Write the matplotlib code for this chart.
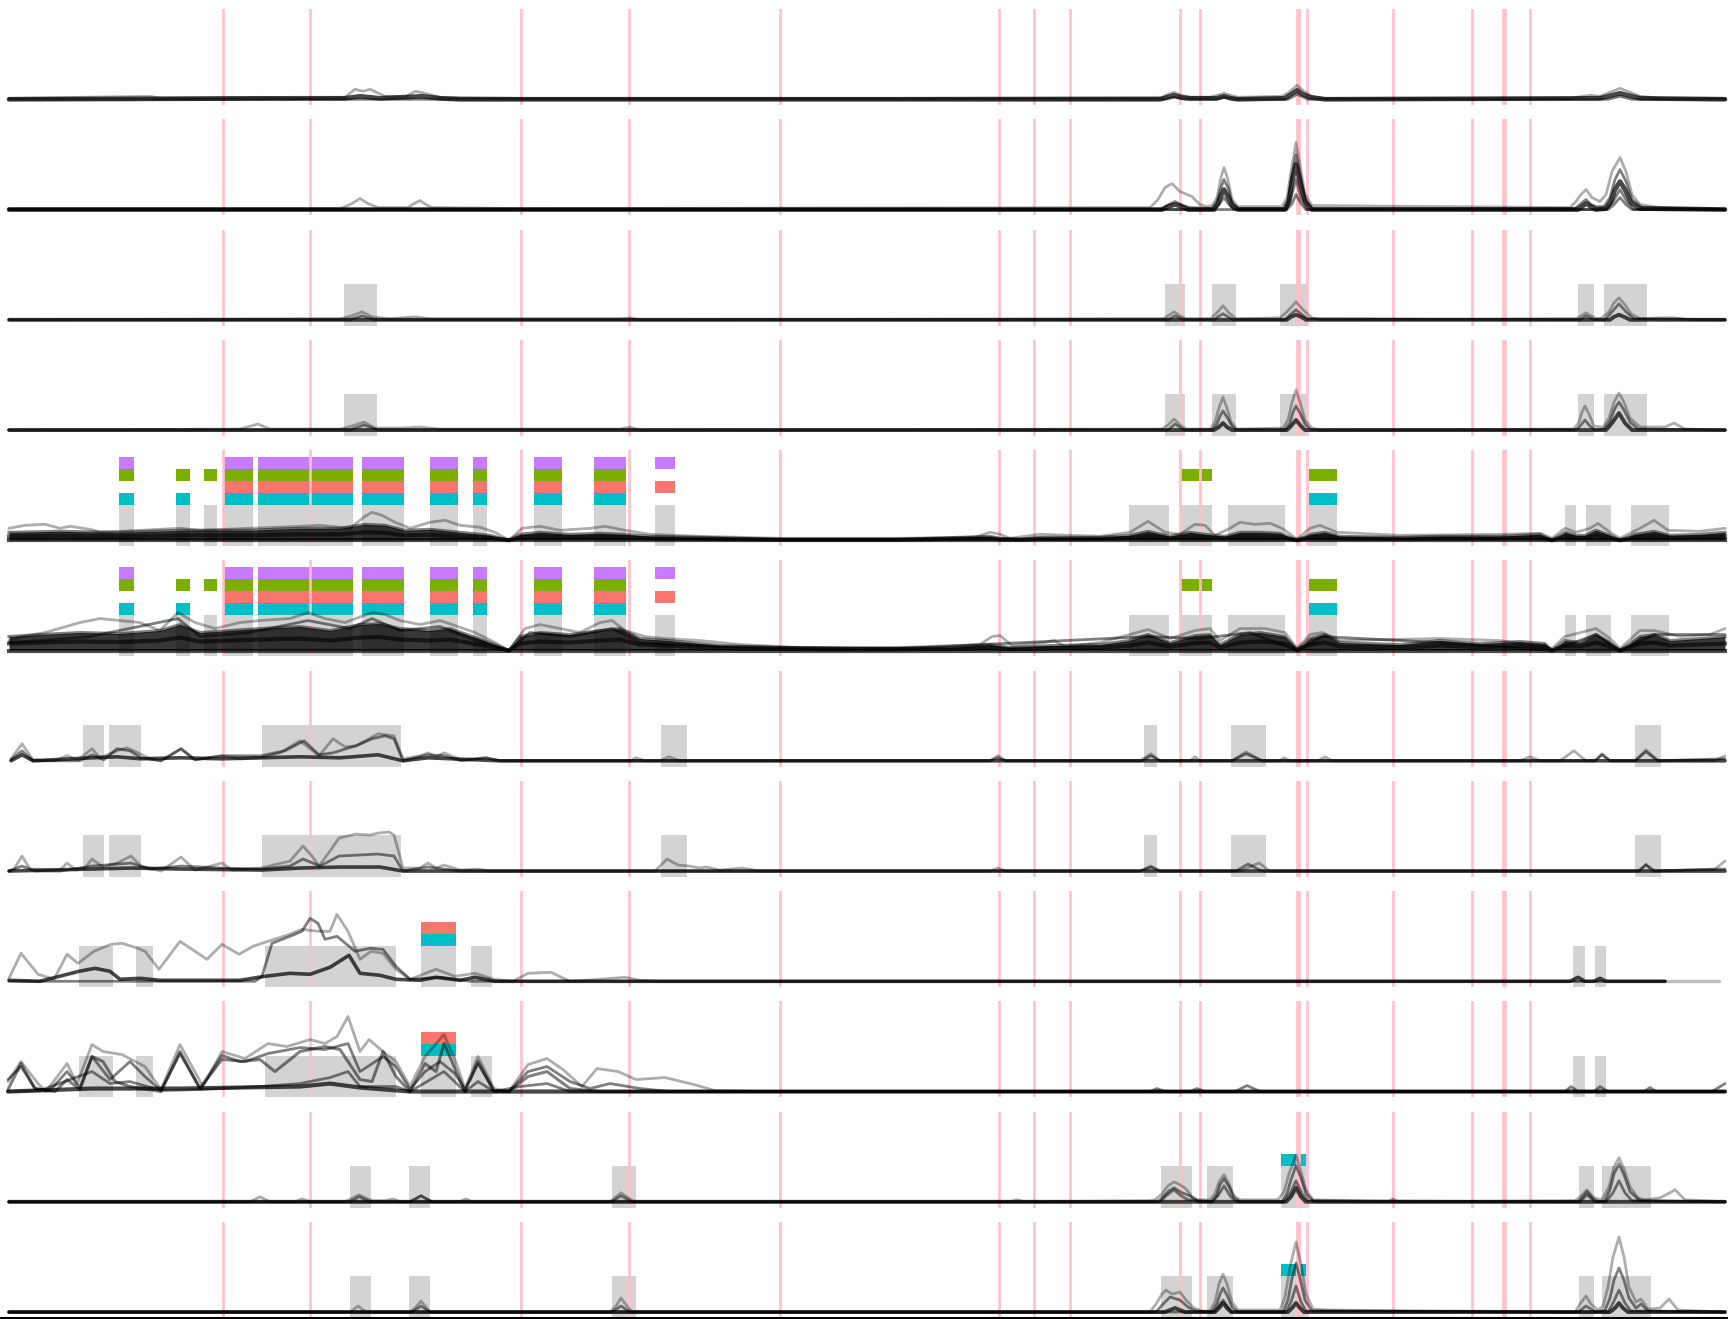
import matplotlib
matplotlib.use("Agg")
import matplotlib.pyplot as plt

# ---------------- data (x in track position units, y = signal) ----------------
EVENT_X = [222.7, 310.3, 520.5, 628.6, 779.8, 998.6, 1034.2, 1069.5, 1180.4, 1200.4,
           1296.6, 1299.2, 1307.3, 1393.3, 1472, 1502.5, 1505, 1529.5]

REG_34 = [(344, 377), (1165, 1185), (1212, 1236), (1280, 1307), (1578, 1594), (1604, 1647)]
REG_56 = [(119, 134), (176, 190), (204, 217), (224, 253), (258, 353), (362, 404), (430, 458),
          (473, 487), (534, 562), (594, 626), (655, 675), (1129, 1169), (1181, 1212),
          (1228, 1285), (1309, 1337), (1565, 1576), (1586, 1611), (1631, 1669)]
PURPLE_56 = [(119, 134), (224, 253), (258, 353), (362, 404), (430, 458), (473, 487),
             (534, 562), (594, 626), (655, 675)]
GREEN_56 = [(119, 134), (176, 190), (204, 217), (224, 253), (258, 353), (362, 404),
            (430, 458), (473, 487), (534, 562), (594, 626), (1181, 1212), (1309, 1337)]
SALMON_56 = [(224, 253), (258, 353), (362, 404), (430, 458), (473, 487), (534, 562),
             (594, 626), (655, 675)]
CYAN_56 = [(119, 134), (176, 190), (224, 253), (258, 353), (362, 404), (430, 458),
           (473, 487), (534, 562), (594, 626), (1309, 1337)]
REG_78 = [(83, 104), (109, 141), (262, 401), (661, 687), (1144, 1157), (1231, 1266), (1635, 1661)]
REG_910 = [(79, 113), (136, 153), (265, 396), (421, 456), (471, 492), (1573, 1585), (1595, 1606)]
SALMON_910 = [(421, 456)]
CYAN_910 = [(421, 456)]
REG_1112 = [(350, 371), (409, 430), (612, 636), (1161, 1192), (1207, 1233), (1281, 1306),
            (1579, 1594), (1602, 1651)]
CYAN_1112 = [(1281, 1306)]

# ---- panel 1
P1_T1 = [(9,1),(80,2),(150,3),(160,1),(260,2),(300,1),(345,2),(355,10),(363,8),(370,10),(385,3),(405,2),
         (415,8),(425,6),(440,2),(520,1),(900,1),(1162,2),(1168,5),(1174,7),(1181,4),(1190,2),(1210,2),
         (1217,4),(1224,6),(1231,4),(1238,2),(1282,3),(1289,7),(1297,14),(1304,8),(1312,3),(1325,1),(1570,1),
         (1590,4),(1600,3),(1610,7),(1620,11),(1630,7),(1640,3),(1660,1),(1725,1)]
P1_T2 = [(9,0),(300,1),(345,1),(360,3),(380,1),(422,3),(440,1),(460,0),(1160,0),(1167,2),(1174,4),(1181,2),
         (1190,1),(1217,1),(1224,3),(1231,1),(1238,0),(1285,1),(1291,5),(1297,9),(1303,5),(1310,2),(1325,0),
         (1600,1),(1612,4),(1620,6),(1628,4),(1640,1),(1725,0)]
P1_T3 = [(9,0),(1165,0),(1174,2),(1185,0),(1215,0),(1224,2),(1235,0),(1288,0),(1297,5),(1308,0),(1608,0),
         (1620,3),(1632,0),(1725,0)]
# ---- panel 2
P2_T1 = [(9,1),(340,1),(350,5),(360,11),(368,6),(378,2),(408,2),(414,6),(420,9),(426,5),(432,2),(520,1),
         (1150,2),(1158,10),(1165,22),(1172,26),(1180,18),(1192,13),(1200,5),(1206,3),(1212,4),(1217,12),
         (1221,32),(1224,42),(1228,30),(1232,10),(1238,3),(1282,3),(1287,12),(1291,38),(1296,67),(1300,45),
         (1305,15),(1312,4),(1570,2),(1576,8),(1580,14),(1586,20),(1592,12),(1600,8),(1606,15),(1612,38),
         (1620,52),(1626,38),(1632,15),(1640,5),(1660,2),(1725,1)]
P2_T2 = [(9,0),(1160,0),(1167,4),(1175,8),(1183,4),(1190,2),(1212,1),(1217,8),(1221,22),(1224,30),(1228,22),
         (1232,7),(1238,1),(1284,1),(1288,10),(1292,35),(1296,55),(1300,36),(1305,10),(1312,1),(1575,1),
         (1581,6),(1586,10),(1591,5),(1596,3),(1604,3),(1610,12),(1615,30),(1620,40),(1626,28),(1632,10),
         (1642,2),(1725,0)]
P2_T3 = [(9,0),(1162,0),(1168,3),(1175,5),(1182,3),(1188,0),(1214,0),(1218,6),(1221,14),(1224,20),(1228,13),
         (1232,4),(1238,0),(1285,0),(1289,8),(1292,28),(1296,45),(1300,28),(1305,8),(1312,0),(1578,0),
         (1582,3),(1586,6),(1591,3),(1596,0),(1606,1),(1611,8),(1615,20),(1620,28),(1625,20),(1631,7),
         (1640,1),(1725,0)]
P2_T4 = [(9,0),(1214,0),(1219,5),(1224,12),(1229,5),(1234,0),(1286,0),(1291,12),(1296,30),(1301,12),(1307,0),
         (1606,0),(1613,8),(1620,20),(1627,8),(1634,0),(1725,0)]
P2_T5 = [(9,0),(1287,0),(1292,6),(1296,15),(1301,6),(1306,0),(1608,0),(1614,5),(1620,12),(1626,5),(1632,0),
         (1725,0)]
# ---- panel 3
P3_T1 = [(9,0),(340,1),(352,4),(362,8),(372,3),(390,1),(415,3),(430,1),(620,1),(630,2),(640,0),(1163,1),
         (1168,4),(1174,8),(1180,4),(1186,1),(1210,1),(1216,6),(1223,14),(1229,7),(1236,1),(1280,2),(1287,8),
         (1296,18),(1303,10),(1312,2),(1320,0),(1576,1),(1581,4),(1586,7),(1591,4),(1597,1),(1602,2),
         (1609,8),(1614,17),(1619,22),(1625,15),(1631,6),(1640,1),(1660,2),(1675,2),(1690,0),(1725,0)]
P3_T2 = [(9,0),(350,0),(362,4),(375,0),(1168,0),(1175,4),(1184,0),(1214,0),(1218,3),(1223,6),(1228,3),
         (1233,0),(1285,0),(1290,5),(1296,10),(1302,5),(1308,1),(1580,0),(1586,4),(1594,0),(1605,0),
         (1612,8),(1619,16),(1626,8),(1634,1),(1725,0)]
P3_T3 = [(9,0),(1287,0),(1291,3),(1296,5),(1301,3),(1306,0),(1610,0),(1614,3),(1619,5),(1624,3),(1630,0),
         (1725,0)]
# ---- panel 4
P4_T1 = [(9,0),(240,1),(258,6),(270,1),(340,1),(352,4),(364,8),(375,2),(400,2),(420,3),(440,1),(620,1),
         (630,3),(640,0),(1162,1),(1168,5),(1174,11),(1180,5),(1186,1),(1210,1),(1215,8),(1219,22),(1223,33),
         (1227,22),(1231,8),(1237,1),(1283,2),(1288,10),(1292,28),(1296,40),(1300,28),(1305,10),(1312,2),
         (1320,0),(1570,1),(1574,1),(1579,8),(1582,18),(1585,24),(1589,16),(1594,4),(1603,3),(1609,12),
         (1614,28),(1619,37),(1624,28),(1630,12),(1640,3),(1665,3),(1674,7),(1685,1),(1725,0)]
P4_T2 = [(9,0),(350,0),(364,5),(378,0),(1168,0),(1175,6),(1184,0),(1212,0),(1217,6),(1220,14),(1223,19),
         (1227,13),(1232,4),(1236,0),(1285,0),(1290,7),(1293,18),(1296,24),(1300,17),(1305,6),(1311,0),
         (1576,0),(1580,4),(1585,10),(1590,4),(1595,0),(1604,1),(1610,9),(1615,22),(1619,28),(1624,20),
         (1630,8),(1638,1),(1725,0)]
P4_T3 = [(9,0),(1214,0),(1219,3),(1223,7),(1227,3),(1232,0),(1287,0),(1291,4),(1296,10),(1301,4),(1305,0),
         (1606,0),(1612,7),(1619,17),(1625,7),(1632,0),(1725,0)]
# ---- panel 5 (dense bundle: core envelope + outliers)
P5_CORE = [(9,8),(60,9),(120,8),(180,10),(250,10),(300,12),(340,12),(365,16),(385,15),(405,10),(430,11),
           (460,8),(490,5),(509,0),(520,6),(540,8),(570,6),(600,7),(625,6),(650,4),(700,3),(780,1),(900,1),
           (990,4),(1000,2),(1020,1),(1040,3),(1100,3),(1130,5),(1148,9),(1170,4),(1190,8),(1205,6),(1225,4),
           (1240,8),(1260,8),(1280,7),(1297,0),(1310,6),(1325,8),(1340,4),(1400,3),(1440,4),(1500,4),(1540,6),
           (1552,0),(1565,8),(1576,5),(1585,5),(1596,10),(1610,5),(1620,0),(1635,6),(1654,9),(1670,5),(1700,6),
           (1725,8)]
P5_T1 = [(9,12),(25,15),(45,16),(60,12),(70,14),(90,11),(100,8),(140,10),(180,12),(200,10),(250,12),(300,14),
         (320,15),(350,12),(365,24),(372,28),(382,25),(395,18),(410,12),(430,18),(445,20),(460,15),(480,13),
         (495,8),(509,0),(522,12),(540,14),(560,10),(590,12),(605,14),(625,10),(650,6),(700,4),(780,2),(900,2),
         (975,3),(990,8),(1000,6),(1010,2),(1040,6),(1100,4),(1130,8),(1148,19),(1165,8),(1180,6),(1195,16),
         (1205,15),(1215,5),(1230,12),(1240,18),(1255,16),(1270,17),(1282,12),(1297,1),(1310,12),(1320,15),
         (1337,8),(1400,5),(1500,6),(1540,7),(1552,2),(1565,12),(1576,8),(1590,12),(1598,17),(1610,8),(1620,2),
         (1640,12),(1654,20),(1668,10),(1700,9),(1725,12)]
# ---- panel 6
P6_CORE = [(9,14),(40,16),(80,18),(120,17),(160,20),(180,26),(200,18),(230,20),(260,22),(300,24),(330,20),
           (360,26),(380,27),(400,22),(430,20),(450,22),(470,15),(490,8),(509,0),(520,14),(540,18),(570,16),
           (600,20),(620,22),(640,12),(680,9),(720,5),(780,3),(850,2),(950,3),(990,6),(1010,3),(1050,5),(1100,6),
           (1129,10),(1148,16),(1170,8),(1195,15),(1210,16),(1220,6),(1240,16),(1260,18),(1285,14),(1297,1),
           (1310,12),(1325,16),(1340,8),(1400,6),(1440,10),(1480,7),(1520,9),(1545,7),(1552,0),(1565,10),
           (1580,8),(1596,16),(1610,8),(1620,0),(1640,14),(1654,16),(1670,10),(1700,12),(1725,14)]
P6_T1 = [(9,10),(22,14),(45,18),(80,28),(100,32),(120,30),(140,28),(160,20),(178,38),(195,28),(215,22),(240,28),
         (260,30),(290,32),(308,38),(325,32),(345,28),(372,38),(385,36),(400,30),(420,26),(440,30),(455,25),
         (475,18),(495,8),(509,0),(525,22),(540,26),(560,22),(580,18),(600,28),(612,30),(625,20),(645,14),
         (665,12),(700,10),(740,6),(800,3),(900,3),(980,6),(992,14),(1000,15),(1012,5),(1045,8),(1054,10),
         (1065,4),(1100,8),(1148,21),(1170,12),(1195,20),(1210,22),(1220,10),(1240,22),(1265,22),(1285,18),
         (1297,2),(1310,16),(1322,18),(1340,10),(1440,12),(1500,10),(1552,2),(1565,14),(1596,22),(1610,12),
         (1620,2),(1640,20),(1654,20),(1680,14),(1710,16),(1725,22)]
P6_T2 = [(9,8),(40,10),(90,14),(178,32),(200,14),(250,18),(308,30),(350,22),(372,32),(400,20),(440,24),(470,12),
         (509,0),(530,18),(570,14),(612,22),(640,8),(720,4),(900,2),(1148,14),(1200,12),(1250,18),(1297,0),
         (1322,14),(1440,8),(1552,0),(1596,16),(1620,0),(1654,16),(1725,16)]
# ---- panel 7
P7_T1 = [(11,2),(22,17),(33,1),(55,0),(67,5),(78,1),(92,12),(100,3),(117,10),(127,13),(136,9),(150,2),(161,0),
         (181,12),(195,1),(222,5),(240,2),(261,3),(280,8),(300,20),(319,5),(333,22),(345,14),(356,15),(378,27),
         (394,25),(403,2),(420,5),(428,8),(436,4),(444,8),(461,1),(486,3),(500,0),(631,0),(636,3),(645,0),
         (660,0),(669,4),(680,0),(990,0),(998,5),(1006,0),(1140,0),(1151,7),(1160,0),(1190,0),(1195,4),(1200,0),
         (1232,0),(1246,9),(1262,0),(1280,0),(1284,3),(1290,0),(1318,0),(1325,4),(1332,0),(1520,0),(1530,4),
         (1540,0),(1560,0),(1574,10),(1586,0),(1595,0),(1602,7),(1610,0),(1635,0),(1646,11),(1658,0),(1715,0),
         (1725,5)]
P7_T2 = [(11,1),(22,10),(33,0),(80,0),(92,6),(104,1),(117,12),(130,10),(141,3),(161,0),(181,12),(195,1),(222,5),
         (261,5),(285,10),(304,20),(319,6),(333,8),(356,15),(372,22),(385,25),(394,22),(403,0),(428,6),(444,5),
         (461,0),(486,3),(500,0),(990,0),(998,3),(1006,0),(1142,0),(1151,5),(1160,0),(1232,0),(1246,7),(1262,0),
         (1595,0),(1602,6),(1610,0),(1635,0),(1646,9),(1658,0),(1725,2)]
P7_T3 = [(11,0),(22,6),(33,0),(92,3),(117,4),(141,2),(181,3),(222,2),(261,3),(300,4),(340,3),(378,6),(403,0),
         (428,3),(500,0),(1725,0)]
# ---- panel 8
P8_T1 = [(9,0),(14,2),(22,15),(30,2),(60,1),(67,8),(76,1),(85,3),(92,12),(103,4),(117,8),(131,15),(141,5),(161,0),
         (181,14),(195,1),(222,8),(232,1),(261,3),(290,10),(303,25),(312,15),(319,5),(330,20),(339,33),(356,37),
         (370,36),(378,38),(389,39),(394,36),(403,3),(420,3),(428,8),(436,3),(444,6),(460,1),(478,2),(490,0),
         (655,0),(667,12),(678,6),(689,5),(700,3),(706,4),(720,1),(742,3),(760,0),(990,0),(998,3),(1006,0),
         (1140,0),(1151,5),(1160,0),(1240,0),(1259,8),(1270,0),(1640,0),(1646,7),(1652,0),(1715,2),(1725,10)]
P8_T2 = [(9,0),(22,5),(35,0),(60,0),(92,5),(131,8),(150,2),(181,5),(222,3),(261,2),(290,5),(303,12),(320,5),
         (339,15),(378,17),(394,15),(403,0),(428,4),(460,0),(1140,0),(1151,4),(1160,0),(1236,0),(1248,7),
         (1262,0),(1638,0),(1646,6),(1655,0),(1725,2)]
P8_T3 = [(9,0),(131,3),(181,2),(261,1),(300,3),(340,4),(380,4),(403,0),(1725,0)]
# ---- panel 9
P9_T1 = [(9,3),(21,28),(38,7),(54,2),(67,27),(78,18),(94,30),(111,37),(122,38),(138,33),(145,30),(159,12),
         (180,40),(207,22),(222,37),(239,27),(253,35),(268,40),(287,46),(302,52),(318,50),(330,50),(337,67),
         (348,50),(360,22),(371,30),(383,28),(396,12),(410,2),(436,12),(455,5),(475,8),(494,2),(513,0),(528,8),
         (551,9),(570,0),(600,2),(625,4),(640,1),(660,0),(1665,0)]
P9_T2 = [(9,0),(255,0),(262,5),(272,38),(290,45),(302,50),(310,63),(318,58),(325,42),(337,45),(355,30),(370,33),
         (383,32),(396,15),(410,2),(425,3),(440,4),(455,2),(470,0),(1665,0)]
P9_T3 = [(9,1),(40,0),(79,10),(95,13),(110,10),(120,2),(140,3),(160,1),(240,1),(265,5),(290,8),(310,7),(330,14),
         (349,26),(360,8),(380,6),(396,2),(420,1),(436,4),(460,1),(475,4),(495,0),(1570,0),(1578,4),(1585,0),
         (1594,0),(1600,3),(1606,0),(1665,0)]
P9_TAIL = [(1665,0),(1719,0)]
# ---- panel 10
P10_T1 = [(8,10),(21,30),(38,8),(46,0),(67,28),(77,8),(92,47),(103,40),(122,37),(145,25),(161,2),(180,47),
          (203,5),(222,40),(245,33),(268,48),(287,45),(310,52),(325,48),(337,55),(348,75),(360,40),(369,52),
          (383,40),(396,30),(410,5),(425,35),(444,57),(455,32),(465,3),(478,35),(494,3),(509,0),(528,27),
          (547,33),(563,22),(582,5),(597,23),(618,20),(636,12),(665,14),(694,7),(715,1),(760,0),(1725,0)]
P10_T2 = [(8,12),(21,25),(35,3),(50,1),(67,20),(80,4),(92,35),(110,12),(130,30),(145,15),(161,1),(180,38),
          (200,3),(222,32),(245,30),(268,38),(300,44),(325,42),(348,48),(360,20),(383,35),(396,25),(410,2),
          (425,20),(440,30),(455,18),(465,2),(478,28),(494,1),(509,0),(528,20),(547,25),(570,10),(590,3),
          (610,8),(640,3),(670,0),(1725,0)]
P10_T3 = [(8,2),(21,28),(35,3),(55,0),(67,12),(80,2),(92,35),(103,30),(115,10),(130,5),(161,0),(180,40),(200,3),
          (222,36),(240,30),(260,32),(275,20),(300,40),(325,45),(340,42),(360,12),(372,10),(383,40),(396,15),
          (410,0),(425,28),(436,20),(444,48),(452,30),(465,0),(478,30),(494,0),(509,0),(528,15),(547,20),
          (570,3),(600,0),(1725,0)]
P10_T4 = [(8,0),(40,1),(92,20),(110,8),(130,10),(161,1),(200,2),(260,5),(300,8),(330,14),(348,20),(360,5),
          (396,5),(410,0),(444,20),(465,0),(478,10),(494,0),(520,5),(547,8),(570,0),(1150,0),(1157,3),(1165,0),
          (1190,0),(1197,3),(1205,0),(1235,0),(1247,6),(1260,0),(1565,0),(1571,5),(1578,0),(1594,0),(1600,5),
          (1608,0),(1644,0),(1650,4),(1656,0),(1712,0),(1725,8)]
P10_T5 = [(8,0),(92,3),(180,3),(300,5),(330,8),(360,4),(410,0),(1725,0)]
# ---- panel 11
P11_T1 = [(9,0),(250,0),(260,5),(270,0),(295,0),(302,3),(310,0),(345,0),(359,7),(372,1),(385,1),(393,3),(400,0),
          (410,0),(421,6),(432,0),(460,0),(466,3),(472,0),(610,0),(621,9),(634,0),(1010,0),(1017,2),(1025,0),
          (1150,1),(1155,2),(1162,8),(1168,16),(1174,20),(1180,17),(1186,13),(1192,5),(1198,2),(1210,2),
          (1215,8),(1219,20),(1224,27),(1229,18),(1234,6),(1240,2),(1278,2),(1284,10),(1289,28),(1296,47),
          (1301,30),(1306,12),(1313,2),(1388,0),(1393,3),(1398,0),(1575,1),(1580,5),(1587,12),(1593,5),
          (1600,2),(1603,4),(1609,15),(1614,35),(1619,44),(1624,33),(1630,15),(1638,4),(1645,2),(1660,4),
          (1668,8),(1675,12),(1685,2),(1725,0)]
P11_T2 = [(9,0),(350,0),(359,5),(370,0),(410,0),(421,6),(432,0),(612,0),(621,6),(632,0),(1158,0),(1164,6),
          (1169,11),(1174,14),(1182,9),(1190,6),(1198,0),(1212,0),(1217,7),(1220,17),(1224,23),(1229,15),
          (1234,4),(1240,0),(1282,0),(1287,8),(1291,22),(1296,36),(1301,24),(1306,8),(1314,0),(1578,0),
          (1582,4),(1587,10),(1592,4),(1598,0),(1605,1),(1610,12),(1614,28),(1619,38),(1624,27),(1630,10),
          (1640,1),(1725,0)]
P11_T3 = [(9,0),(1160,0),(1166,6),(1174,12),(1181,6),(1188,2),(1212,0),(1218,6),(1224,16),(1230,6),(1236,0),
          (1284,0),(1290,8),(1296,21),(1302,8),(1308,1),(1580,0),(1587,7),(1595,0),(1606,0),(1613,9),(1619,21),
          (1625,9),(1632,1),(1725,0)]
P11_T4 = [(9,0),(1286,0),(1291,5),(1296,14),(1301,5),(1306,0),(1725,0)]
# ---- panel 12
P12_T1 = [(9,0),(350,0),(358,6),(366,0),(410,0),(416,5),(421,11),(426,5),(430,0),(610,0),(616,6),(621,14),
          (627,6),(632,0),(1150,0),(1156,8),(1162,18),(1166,22),(1172,18),(1180,20),(1186,12),(1194,4),
          (1202,1),(1210,1),(1215,10),(1219,28),(1223,38),(1227,28),(1232,10),(1238,2),(1280,2),(1285,15),
          (1290,45),(1296,70),(1301,48),(1306,18),(1313,3),(1330,2),(1575,0),(1580,8),(1586,16),(1591,8),
          (1598,2),(1603,6),(1608,25),(1613,55),(1619,75),(1624,55),(1629,25),(1636,10),(1641,13),(1648,3),
          (1660,4),(1669,13),(1678,2),(1725,0)]
P12_T2 = [(9,0),(412,0),(421,6),(430,0),(612,0),(621,6),(630,0),(1156,0),(1163,8),(1170,15),(1180,12),
          (1188,5),(1196,1),(1212,0),(1217,8),(1220,18),(1223,24),(1227,17),(1232,5),(1238,0),(1283,0),
          (1288,12),(1292,34),(1296,49),(1300,34),(1305,12),(1312,1),(1578,0),(1582,3),(1586,6),(1591,3),
          (1596,0),(1605,2),(1610,14),(1614,32),(1619,44),(1624,32),(1629,14),(1636,4),(1641,8),(1648,1),
          (1725,0)]
P12_T3 = [(9,0),(1214,0),(1218,5),(1223,12),(1228,5),(1232,0),(1286,0),(1291,10),(1296,26),(1301,10),
          (1306,1),(1608,0),(1613,9),(1619,22),(1625,9),(1631,1),(1725,0)]
P12_T4 = [(9,0),(1165,0),(1170,2),(1175,4),(1180,2),(1185,0),(1215,0),(1219,4),(1223,9),(1227,4),(1231,0),
          (1288,0),(1292,4),(1296,9),(1300,4),(1304,0),(1610,0),(1615,4),(1619,9),(1623,4),(1628,0),(1725,0)]

# ---------------- styling / layout ----------------
PINK = "#FFC0CB"
GRAY = "#D3D3D3"
PURPLE, GREEN, SALMON, CYAN = "#C77CFF", "#7CAE00", "#F8766D", "#00BFC4"

LIGHT, MID, DARK = 0.32, 0.5, 0.72

panels = [
    dict(traces=[(P1_T1, LIGHT, 2.0), (P1_T2, DARK, 3.4), (P1_T3, MID, 2.0)]),
    dict(traces=[(P2_T1, LIGHT, 2.0), (P2_T2, MID, 2.0), (P2_T3, DARK, 3.4), (P2_T4, MID, 2.0), (P2_T5, MID, 2.0)]),
    dict(traces=[(P3_T1, LIGHT, 2.0), (P3_T2, MID, 2.0), (P3_T3, DARK, 2.8)], rects=REG_34),
    dict(traces=[(P4_T1, LIGHT, 2.0), (P4_T2, MID, 2.0), (P4_T3, DARK, 2.8)], rects=REG_34),
    dict(core=P5_CORE, traces=[(P5_T1, LIGHT, 2.0)], rects=REG_56,
         bars=[(CYAN_56, CYAN, 0), (SALMON_56, SALMON, 1), (GREEN_56, GREEN, 2), (PURPLE_56, PURPLE, 3)]),
    dict(core=P6_CORE, traces=[(P6_T1, LIGHT, 2.0), (P6_T2, MID, 2.0)], rects=REG_56,
         bars=[(CYAN_56, CYAN, 0), (SALMON_56, SALMON, 1), (GREEN_56, GREEN, 2), (PURPLE_56, PURPLE, 3)]),
    dict(traces=[(P7_T1, LIGHT, 2.0), (P7_T2, MID, 2.0), (P7_T3, DARK, 2.6)], rects=REG_78),
    dict(traces=[(P8_T1, LIGHT, 2.0), (P8_T2, MID, 2.0), (P8_T3, DARK, 2.6)], rects=REG_78),
    dict(traces=[(P9_T1, LIGHT, 2.0), (P9_T2, MID, 2.0), (P9_T3, DARK, 2.6), (P9_TAIL, 0.25, 2.4)],
         rects=REG_910, bars=[(CYAN_910, CYAN, 0), (SALMON_910, SALMON, 1)]),
    dict(traces=[(P10_T1, LIGHT, 2.0), (P10_T2, MID, 2.0), (P10_T3, MID, 2.2), (P10_T4, MID, 2.0),
                 (P10_T5, DARK, 3.0)],
         rects=REG_910, bars=[(CYAN_910, CYAN, 0), (SALMON_910, SALMON, 1)]),
    dict(traces=[(P11_T1, LIGHT, 2.0), (P11_T2, MID, 2.0), (P11_T3, MID, 2.0), (P11_T4, DARK, 2.8)],
         rects=REG_1112, bars=[(CYAN_1112, CYAN, 0)]),
    dict(traces=[(P12_T1, LIGHT, 2.0), (P12_T2, MID, 2.0), (P12_T3, MID, 2.0), (P12_T4, DARK, 2.8)],
         rects=REG_1112, bars=[(CYAN_1112, CYAN, 0)]),
]

W, H = 1728, 1319
fig = plt.figure(figsize=(W / 100, H / 100), dpi=100)
TOP0, PITCH, AX_H = 9.0, 110.25, 96.0
RECT_TOP = 0.43
BAR_H = 0.125

for k, p in enumerate(panels):
    top = TOP0 + PITCH * k
    ax = fig.add_axes([0, 1 - (top + AX_H) / H, 1, AX_H / H])
    ax.set_xlim(0, W)
    ax.set_ylim(-5.7, 90.3)
    for s in ax.spines.values():
        s.set_visible(False)
    ax.set_xticks([])
    ax.set_yticks([])
    ax.patch.set_alpha(0)

    for x0, x1 in p.get("rects", []):
        ax.axvspan(x0, x1, ymin=0, ymax=RECT_TOP, color=GRAY, lw=0, zorder=0.5)
    for spans, col, row in p.get("bars", []):
        for x0, x1 in spans:
            ax.axvspan(x0, x1, ymin=RECT_TOP + row * BAR_H, ymax=RECT_TOP + (row + 1) * BAR_H,
                       color=col, lw=0, zorder=1)
    for ex in EVENT_X:
        ax.axvline(ex, color=PINK, lw=2.0, alpha=0.95, zorder=1.5)

    if "core" in p:
        xs, ys = zip(*p["core"])
        ax.fill_between(xs, [0.3] * len(xs), ys, color="black", alpha=0.78, lw=0, zorder=2)
        ax.plot(xs, ys, color="black", alpha=0.5, lw=2.2, zorder=2.1)
        ax.plot(xs, [0.5 * y for y in ys], color="black", alpha=0.6, lw=3.0, zorder=2.1)
        ax.plot([xs[0], xs[-1]], [0, 0], color="black", alpha=0.7, lw=3.0, zorder=2.1)
    for pts, a, lw in p["traces"]:
        xs, ys = zip(*pts)
        ax.plot(xs, ys, color="black", alpha=a, lw=lw, solid_joinstyle="round",
                solid_capstyle="round", zorder=2.2)

    if k == len(panels) - 1:
        ax.spines["bottom"].set_visible(True)
        ax.spines["bottom"].set_linewidth(2.2)
        ax.spines["bottom"].set_color("black")

fig.savefig("out.png", dpi=100)
